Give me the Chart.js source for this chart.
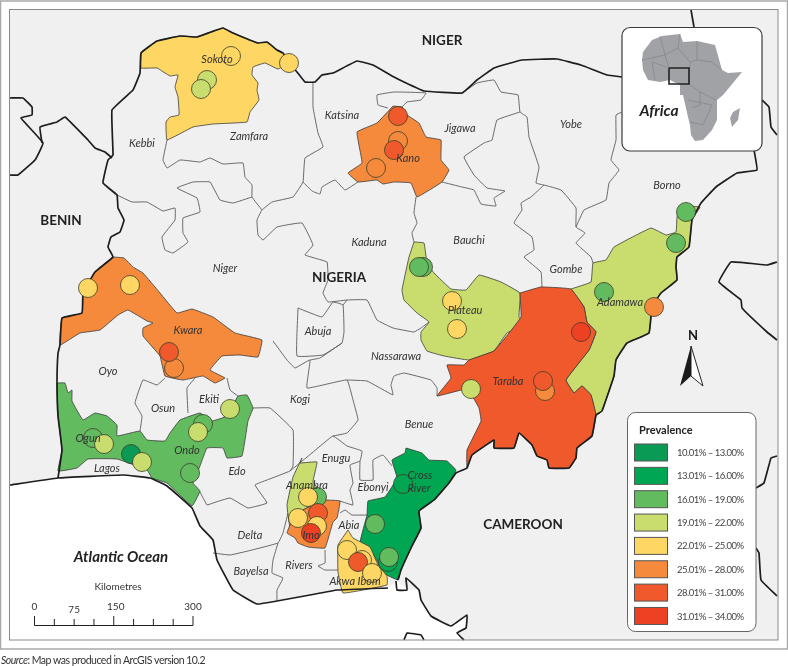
<!DOCTYPE html>
<html>
<head>
<meta charset="utf-8">
<title>Prevalence map</title>
<script src="https://cdn.jsdelivr.net/npm/chart.js@4/dist/chart.umd.min.js"></script>
<style>
  body { margin: 0; background: #fff; }
  canvas { display: block; }
</style>
</head>
<body>
<canvas id="mapa" width="788" height="666"></canvas>
<script>
const classLabels = ['10.01% – 13.00%', '13.01% – 16.00%', '16.01% – 19.00%', '19.01% – 22.00%', '22.01% – 25.00%', '25.01% – 28.00%', '28.01% – 31.00%', '31.01% – 34.00%'];
const classColors = ['#0b9a55', '#00a651', '#62bb5f', '#c9dd6f', '#fdd663', '#f58a3d', '#f0592b', '#ee4124'];

// prevalence sites, in drawing order
const siteX = [231, 289, 207, 201, 398, 398, 394, 376, 88, 130, 174, 169, 93, 104, 131, 142, 203, 198, 230, 190, 423, 419, 452, 457, 471, 581, 545, 543, 604, 654, 676, 686, 403, 375, 388, 389, 347, 362, 358, 372, 317, 308, 298, 318, 317, 311];
const siteY = [56, 63, 80, 89, 116, 141, 150, 168, 288, 285, 368, 352, 438, 444, 454, 462, 424, 432, 409, 473, 267, 267, 301, 329, 389, 332, 391, 381, 292, 307, 243, 212, 484, 524, 562, 557, 550, 560, 562, 573, 497, 497, 518, 513, 526, 533];
const siteClass = [4, 4, 3, 3, 6, 5, 6, 5, 4, 4, 5, 6, 2, 3, 0, 3, 2, 3, 3, 2, 2, 2, 4, 4, 3, 7, 5, 6, 2, 5, 2, 2, 1, 2, 1, 2, 4, 4, 6, 4, 2, 4, 4, 6, 4, 7];

// coloured states
const sokoto = [[141,53],[157,41],[180,36],[197,37],[211,32],[223,28],[233,33],[258,43],[267,42],[277,50],[283,53],[289,62],[278,69],[265,63],[253,67],[252,75],[258,83],[257,90],[259,100],[250,112],[247,122],[213,124],[193,127],[167,140],[166,122],[170,117],[179,115],[178,97],[175,87],[178,75],[170,76],[157,68],[141,68]];
const kano = [[393,106],[377,123],[357,132],[362,163],[348,173],[358,182],[377,180],[383,184],[394,182],[411,183],[417,197],[442,182],[449,170],[441,160],[441,140],[426,137],[419,123],[407,115],[402,107]];
const kwara = [[113,257],[124,258],[133,267],[143,273],[160,293],[177,313],[192,309],[213,317],[235,333],[262,340],[258,357],[240,355],[222,356],[210,370],[225,378],[215,383],[203,376],[183,380],[165,376],[160,356],[143,336],[143,328],[153,323],[147,321],[128,310],[118,315],[100,330],[80,333],[60,345],[62,318],[82,313],[83,293],[95,272]];
const ogunOndo = [[57,383],[65,383],[68,393],[72,390],[72,401],[83,420],[95,413],[107,416],[117,425],[117,436],[140,431],[147,440],[165,441],[170,433],[180,420],[200,413],[212,421],[227,416],[238,396],[247,395],[253,408],[248,421],[242,456],[227,458],[223,448],[207,448],[200,466],[193,483],[200,491],[192,506],[167,483],[152,478],[147,470],[117,459],[88,459],[77,468],[58,471],[62,450],[58,416]];
const plateau = [[414,242],[424,243],[427,263],[434,273],[451,289],[466,290],[479,275],[501,282],[520,293],[519,317],[524,325],[507,333],[494,351],[469,360],[444,356],[427,351],[421,340],[421,332],[429,322],[417,313],[404,300],[402,290],[409,257]];
const taraba = [[520,293],[541,287],[571,289],[584,307],[587,322],[596,332],[589,350],[566,380],[574,393],[582,386],[591,395],[596,415],[592,436],[577,448],[576,458],[569,468],[549,468],[547,460],[537,456],[532,445],[519,433],[514,448],[494,448],[494,440],[472,455],[467,468],[467,450],[481,421],[479,408],[472,396],[462,390],[437,396],[451,378],[447,365],[464,365],[469,360],[494,351],[509,333],[521,317]];
const adamawa = [[571,289],[591,282],[593,263],[606,260],[614,247],[651,228],[666,235],[676,232],[677,217],[681,207],[700,207],[692,220],[689,247],[677,257],[676,267],[677,280],[661,293],[652,307],[649,333],[627,343],[616,360],[614,376],[602,411],[596,415],[591,395],[582,386],[574,393],[566,380],[589,350],[596,332],[587,322],[584,307]];
const anambra = [[302,458],[300,463],[317,462],[313,482],[325,498],[303,510],[290,527],[287,505],[293,477]];
const imo = [[325,500],[340,501],[337,518],[333,522],[325,548],[308,547],[298,543],[295,538],[287,533],[290,525],[303,510]];
const crossRiver = [[406,448],[422,453],[429,460],[447,461],[456,470],[453,476],[449,483],[434,500],[419,511],[421,528],[412,546],[401,570],[398,580],[383,573],[375,557],[360,543],[367,515],[368,501],[385,497],[397,478],[392,460],[405,453]];
const akwaIbom = [[348,530],[353,538],[370,547],[378,565],[387,576],[387,585],[343,593],[338,572],[338,545]];

const ocean = [[10,485],[58,478],[123,475],[150,478],[167,486],[192,508],[200,526],[213,540],[217,560],[233,590],[257,604],[277,601],[310,595],[337,590],[388,588],[397,582],[407,590],[419,590],[421,600],[431,616],[451,626],[467,615],[466,628],[457,633],[464,640],[10,640]];

// thick international borders
const nigeriaNorth = [[10,98],[23,98],[32,107],[32,115],[21,118],[43,143],[35,160],[18,175],[10,175]];
const beninNorth = [[42,143],[40,127],[57,122],[65,117],[88,140],[95,148],[105,152],[112,158]];
const nigeriaWest = [[58,478],[62,450],[58,416],[57,383],[58,353],[60,345],[62,318],[82,313],[83,293],[95,272],[113,257],[108,247],[111,237],[120,232],[124,220],[118,208],[117,195],[103,183],[108,160],[113,155],[112,110],[133,90],[140,73],[141,53],[157,41],[180,36],[197,37],[211,32],[223,28],[233,33],[258,43],[267,42],[277,50],[283,53],[289,62],[297,72],[305,82],[315,82],[322,75],[333,73],[357,61],[373,65],[394,77],[404,82],[424,91],[462,93],[477,80],[494,68],[522,60],[557,59],[581,65],[607,75],[622,77]];
const nigeriaEast = [[754,150],[757,170],[737,173],[716,187],[701,203],[692,220],[689,247],[677,257],[676,267],[677,280],[661,293],[652,307],[649,333],[627,343],[616,360],[614,376],[602,411],[596,415],[592,436],[577,448],[576,458],[569,468],[549,468],[547,460],[537,456],[532,445],[519,433],[514,448],[494,448],[494,440],[472,455],[467,468],[456,473],[449,483],[434,500],[419,511],[421,528],[412,546],[401,570],[398,580]];
const nigeriaCoast = [[10,485],[58,478],[123,475],[150,478],[167,486],[192,508],[200,526],[213,540],[217,560],[233,590],[257,604],[277,601],[310,595],[337,590],[388,588]];
const cameroonCoast = [[396,581],[397,590],[407,590],[406,578],[419,590],[421,600],[431,616],[451,626],[467,615],[466,628],[457,633],[464,640]];
const guineaTop = [[404,640],[407,633],[421,635],[424,640]];
const chadTop = [[691,10],[694,27]];
const chadEast = [[762,100],[769,107],[771,127],[777,135]];
const carNorth = [[777,262],[767,265],[731,262],[719,282],[741,300],[742,308],[767,332],[777,340]];
const carMid = [[777,456],[771,458],[764,483],[756,488]];
const carSouth = [[756,548],[759,553],[761,580],[777,596]];
const heavyLines = [nigeriaNorth, beninNorth, nigeriaWest, nigeriaEast, nigeriaCoast, cameroonCoast, guineaTop, chadTop, chadEast, carNorth, carMid, carSouth];

// thin state boundaries
const zamfaraSouth = [[167,140],[163,160],[167,168],[180,160],[200,162],[210,158],[223,164],[243,163],[245,177],[252,185],[252,197],[262,210]];
const nigerNotch = [[252,197],[233,203],[220,200],[210,182],[193,182],[177,188],[197,198],[200,212],[183,218],[183,233],[188,242],[173,253],[165,250],[162,237],[175,220],[175,208],[163,211],[147,202],[132,202],[117,195]];
const katsinaWest = [[313,82],[313,107],[318,133],[323,147],[305,158],[303,182],[293,197],[272,202],[262,210],[257,220],[258,235],[263,240],[277,227],[302,223],[313,245],[305,255],[327,262],[328,280],[323,293],[328,302],[347,300],[367,300],[377,320],[393,328],[414,332],[421,328],[429,322]];
const katsinaSouth = [[303,182],[312,191],[320,194],[322,187],[335,180],[345,190],[358,182]];
const kanoNotch = [[402,107],[407,102],[421,100],[426,93],[394,92],[377,95],[378,105],[388,108]];
const kadunaEast = [[416,197],[414,213],[417,223],[412,233],[414,242]];
const jigawaEast = [[442,182],[462,187],[474,190],[481,204],[496,206],[494,198],[505,191],[487,188],[474,175],[464,157],[484,143],[492,140],[497,120],[520,112]];
const jigawaNorth = [[461,94],[477,83],[494,80],[501,92],[518,95],[520,112],[527,117],[529,137],[539,167],[536,183],[544,185]];
const bauchiEast = [[544,185],[531,197],[521,203],[522,210],[514,223],[532,237],[534,250],[524,257],[541,272],[542,287]];
const gombeEast = [[544,185],[561,190],[576,208],[576,227],[585,233],[576,243],[591,257],[593,263]];
const yobeEast = [[576,227],[584,210],[606,200],[609,183],[619,170],[611,160],[616,140],[616,115],[622,112]];
const oyoOsun = [[165,378],[157,385],[143,380],[135,403],[142,416],[140,431]];
const osunEkiti = [[195,378],[187,388],[188,413]];
const ekitiKogi = [[227,378],[230,390],[238,396]];
const kogiEdo = [[253,408],[270,408],[293,430],[293,466],[290,471],[267,480],[255,485],[267,503],[248,508],[230,498],[213,503],[207,505],[200,492]];
const deltaEast = [[288,513],[283,533],[278,543],[248,551],[230,555],[213,553]];
const bayelsaEast = [[278,543],[273,560],[272,573],[283,578],[277,590],[277,601]];
const riversEast = [[325,550],[325,563],[318,566],[325,570],[338,570]];
const abiaTop = [[340,513],[345,510],[352,515],[367,515]];
const enuguNorth = [[290,471],[312,453],[333,436],[347,446],[362,451],[360,461],[350,465],[353,483],[350,490],[353,505],[340,501]];
const ebonyiTop = [[360,461],[360,480],[373,480],[373,460],[383,455],[392,466]];
const kogiEast = [[273,341],[287,360],[295,368],[310,360],[307,388],[347,380],[353,400],[358,420],[347,433],[333,436]];
const benueNorth = [[347,380],[367,381],[393,395],[391,385],[394,376],[404,373],[431,380],[437,388],[437,396]];
const abuja = [[298,308],[322,317],[333,302],[343,305],[344,332],[342,343],[323,355],[297,356],[298,308]];
const nassarawaWest = [[310,360],[320,358],[342,343]];
const abujaTop = [[343,305],[347,300]];
const thinLines = [zamfaraSouth, nigerNotch, katsinaWest, katsinaSouth, kanoNotch, kadunaEast, jigawaEast, jigawaNorth, bauchiEast, gombeEast, yobeEast, oyoOsun, osunEkiti, ekitiKogi, kogiEdo, deltaEast, bayelsaEast, riversEast, abiaTop, enuguNorth, ebonyiTop, kogiEast, benueNorth, abuja, nassarawaWest, abujaTop];

// state and place names
const stateNames = ['Sokoto', 'Katsina', 'Kebbi', 'Zamfara', 'Jigawa', 'Yobe', 'Kano', 'Borno', 'Kaduna', 'Niger', 'Bauchi', 'Gombe', 'Abuja', 'Plateau', 'Adamawa', 'Nassarawa', 'Kwara', 'Oyo', 'Osun', 'Ekiti', 'Kogi', 'Ogun', 'Ondo', 'Lagos', 'Edo', 'Benue', 'Taraba', 'Enugu', 'Ebonyi', 'Anambra', 'Cross', 'River', 'Abia', 'Imo', 'Delta', 'Rivers', 'Bayelsa', 'Akwa Ibom'];
const stateX = [217, 342, 142, 249, 460, 571, 408, 667, 369, 225, 469, 566, 318, 465, 620, 396, 188, 108, 163, 209, 300, 88, 187, 107, 237, 419, 508, 336, 373, 307, 420, 419, 349, 311, 250, 299, 251, 355];
const stateY = [59, 115, 143, 136, 128, 124, 158, 185, 242, 268, 240, 269, 331, 310, 302, 356, 330, 371, 408, 399, 399, 438, 450, 468, 471, 424, 381, 458, 487, 485, 475, 488, 525, 535, 535, 565, 571, 581];
const countryNames = ['NIGER', 'BENIN', 'NIGERIA', 'CAMEROON'];
const countryX = [442, 61, 339, 523];
const countryY = [41, 221, 278, 525];

// inset map
const africa = [[652,40],[662,36],[680,34],[683,42],[697,41],[715,45],[722,70],[728,73],[742,72],[733,83],[723,95],[717,100],[717,120],[712,130],[703,140],[695,141],[691,135],[690,125],[688,117],[683,95],[680,95],[680,85],[670,80],[660,82],[648,80],[643,70],[642,60],[643,52]];
const madagascar = [[740,108],[738,120],[732,127],[730,118],[733,112]];
const africaBorderA = [[680,34],[678,48],[690,62],[689,84],[700,92],[716,100]];
const africaBorderB = [[642,60],[665,55],[669,68],[652,62],[655,80]];
const africaBorderC = [[697,41],[697,60],[712,62],[722,70]];
const africaBorderD = [[688,100],[712,105],[703,125],[690,122]];
const africaBorderE = [[660,36],[665,55],[678,48]];
const africaBorderF = [[697,60],[690,62]];
const africaBorderG = [[700,92],[700,105],[692,108]];
const insetBox = [[669,68],[689,68],[689,84],[669,84],[669,68]];

// scale bar
const scaleTicks = [0, 37.5, 75, 112.5, 150, 187.5, 225, 262.5, 300];
const scaleLabels = [0, 75, 150, 300];

const toPoints = pts => pts.map(p => ({x: p[0], y: p[1]}));
const closed = pts => pts.concat([pts[0]]);

const areaDs = (pts, color, line) => ({
  data: toPoints(closed(pts)), showLine: true, fill: 'shape', backgroundColor: color,
  borderColor: line || '#3a3a3a', borderWidth: 0.8, pointRadius: 0, tension: 0.08
});
const lineDs = (pts, color, width) => ({
  data: toPoints(pts), showLine: true, fill: false, borderColor: color,
  borderWidth: width, pointRadius: 0, tension: 0.08
});

const layers = [
  areaDs(ocean, '#ffffff', '#ffffff'),
  ...thinLines.map(l => lineDs(l, '#5a5a5a', 0.9)),
  areaDs(sokoto, classColors[4]),
  areaDs(kano, classColors[5]),
  areaDs(kwara, classColors[5]),
  areaDs(ogunOndo, classColors[2]),
  areaDs(plateau, classColors[3]),
  areaDs(adamawa, classColors[3]),
  areaDs(taraba, classColors[6]),
  areaDs(anambra, classColors[3]),
  areaDs(imo, classColors[5]),
  areaDs(crossRiver, classColors[1]),
  areaDs(akwaIbom, classColors[4]),
  ...heavyLines.map(l => lineDs(l, '#1d1d1d', 1.7)),
  {
    data: siteX.map((x, i) => ({x: x, y: siteY[i]})),
    pointBackgroundColor: siteClass.map(c => classColors[c]),
    pointBorderColor: '#3d3d2a', pointBorderWidth: 0.8, pointRadius: 9.5, showLine: false
  }
];
// higher index goes on top
layers.forEach((d, i) => { d.order = -i; });

const roundBox = (ctx, x, y, w, h, r) => {
  ctx.beginPath();
  ctx.roundRect(x, y, w, h, r);
  ctx.fillStyle = '#fff';
  ctx.fill();
  ctx.strokeStyle = '#3a3a3a';
  ctx.stroke();
};

const marco = {
  id: 'marco',
  beforeDatasetsDraw(chart) {
    const {ctx} = chart;
    ctx.save();
    ctx.fillStyle = '#fff';
    ctx.fillRect(0, 0, 788, 666);
    ctx.strokeStyle = '#a8a8a8';
    ctx.lineWidth = 1.5;
    ctx.strokeRect(0.5, 1, 787, 648);
    ctx.fillStyle = '#f0f0f1';
    ctx.fillRect(9, 9, 769, 631);
    ctx.restore();
  }
};

const polyPath = (chart, pts) => {
  const {ctx, scales: {x, y}} = chart;
  ctx.beginPath();
  pts.forEach((p, i) => {
    if (i === 0) ctx.moveTo(x.getPixelForValue(p[0]), y.getPixelForValue(p[1]));
    else ctx.lineTo(x.getPixelForValue(p[0]), y.getPixelForValue(p[1]));
  });
};

const textos = {
  id: 'textos',
  afterDatasetsDraw(chart) {
    const {ctx, scales: {x, y}} = chart;
    ctx.save();
    ctx.strokeStyle = '#8a8a8a';
    ctx.lineWidth = 1;
    ctx.strokeRect(9.5, 9.5, 768.5, 630.5);

    ctx.textAlign = 'center';
    ctx.textBaseline = 'middle';
    ctx.fillStyle = '#333';
    ctx.font = 'italic 11px Lato';
    stateNames.forEach((n, i) => ctx.fillText(n, x.getPixelForValue(stateX[i]), y.getPixelForValue(stateY[i])));
    ctx.fillStyle = '#222';
    ctx.font = 'bold 13.5px Lato';
    countryNames.forEach((n, i) => ctx.fillText(n, x.getPixelForValue(countryX[i]), y.getPixelForValue(countryY[i])));
    ctx.font = 'italic bold 15px Lato';
    ctx.fillText('Atlantic Ocean', x.getPixelForValue(121), y.getPixelForValue(557));

    // scale bar
    ctx.fillStyle = '#333';
    ctx.font = '10px Lato';
    ctx.fillText('Kilometres', x.getPixelForValue(118), y.getPixelForValue(587));
    const kmX = km => 34.5 + km * 158.5 / 300;
    scaleLabels.forEach(km => ctx.fillText(String(km), kmX(km) + (km === 150 ? 2 : 0), km === 75 ? 610 : 607));
    ctx.strokeStyle = '#222';
    ctx.lineWidth = 1;
    ctx.beginPath();
    ctx.moveTo(kmX(0), 625.5);
    ctx.lineTo(kmX(300), 625.5);
    scaleTicks.forEach(km => {
      ctx.moveTo(kmX(km), 625.5);
      ctx.lineTo(kmX(km), km % 150 === 0 ? 616 : 619);
    });
    ctx.stroke();

    // north arrow
    ctx.fillStyle = '#1a1a1a';
    ctx.font = 'bold 13px Lato';
    ctx.fillText('N', 693, 336);
    polyPath(chart, [[691,346],[703,386],[691,376]]);
    ctx.closePath();
    ctx.fillStyle = '#fff';
    ctx.fill();
    ctx.strokeStyle = '#222';
    ctx.stroke();
    polyPath(chart, [[691,346],[680,386],[691,376]]);
    ctx.closePath();
    ctx.fillStyle = '#1a1a1a';
    ctx.fill();

    // inset
    ctx.lineWidth = 1.2;
    roundBox(ctx, 622, 27.5, 140, 123.5, 8);
    [africa, madagascar].forEach(p => {
      polyPath(chart, p);
      ctx.closePath();
      ctx.fillStyle = '#a0a2a6';
      ctx.fill();
    });
    ctx.strokeStyle = '#7d7f84';
    ctx.lineWidth = 0.6;
    [africaBorderA, africaBorderB, africaBorderC, africaBorderD, africaBorderE, africaBorderF, africaBorderG].forEach(p => {
      polyPath(chart, p);
      ctx.stroke();
    });
    ctx.strokeStyle = '#222';
    ctx.lineWidth = 1.6;
    polyPath(chart, insetBox);
    ctx.stroke();
    ctx.fillStyle = '#222';
    ctx.font = 'italic bold 15.5px Lato';
    ctx.fillText('Africa', 659, 111);

    // legend
    ctx.lineWidth = 1;
    ctx.strokeStyle = '#666';
    ctx.beginPath();
    ctx.roundRect(627.5, 412.5, 128.5, 219, 8);
    ctx.fillStyle = '#fff';
    ctx.fill();
    ctx.stroke();
    ctx.textAlign = 'left';
    ctx.fillStyle = '#222';
    ctx.font = 'bold 11px Lato';
    ctx.fillText('Prevalence', 639, 430);
    ctx.font = '9.5px Lato';
    ctx.letterSpacing = '-0.5px';
    classLabels.forEach((t, i) => {
      const top = 444 + i * 23.35;
      ctx.fillStyle = classColors[i];
      ctx.fillRect(634.5, top, 33, 17);
      ctx.strokeStyle = '#555';
      ctx.strokeRect(634.5, top, 33, 17);
      ctx.fillStyle = '#444';
      ctx.fillText(t, 677, top + 9);
    });

    // source note
    ctx.fillStyle = '#333';
    ctx.font = 'italic 10.5px Lato';
    ctx.fillText('Source', 1, 661);
    const w = ctx.measureText('Source').width;
    ctx.font = '10.5px Lato';
    ctx.fillText(': Map was produced in ArcGIS version 10.2', 1 + w, 661);
    ctx.restore();
  }
};

new Chart(document.getElementById('mapa'), {
  type: 'scatter',
  data: {datasets: layers},
  options: {
    responsive: false,
    animation: false,
    layout: {padding: 0, autoPadding: false},
    plugins: {legend: {display: false}, tooltip: {enabled: false}},
    scales: {
      x: {type: 'linear', min: 0, max: 788, display: false},
      y: {type: 'linear', min: 0, max: 666, reverse: true, display: false}
    }
  },
  plugins: [marco, textos]
});
</script>
</body>
</html>
